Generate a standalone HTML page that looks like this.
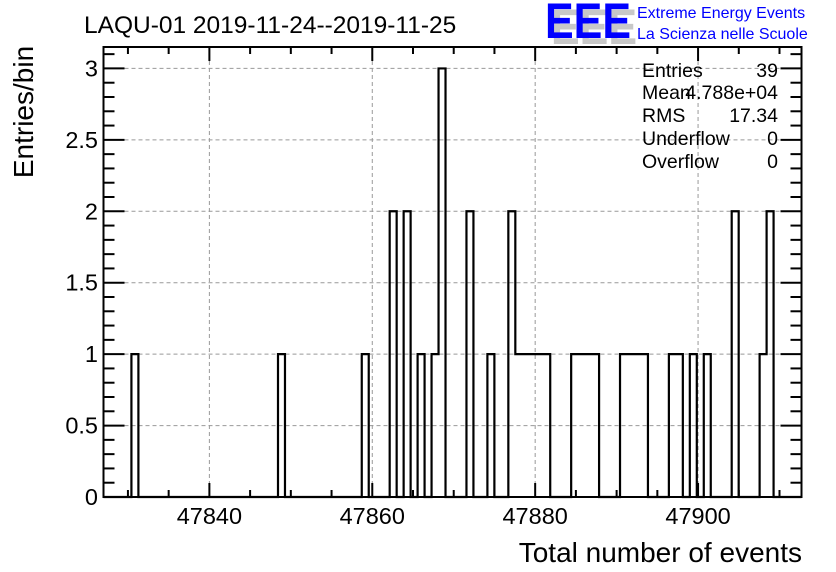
<!DOCTYPE html>
<html><head><meta charset="utf-8"><style>
body{margin:0;background:#fff;}
svg{display:block;font-family:"Liberation Sans",sans-serif;}
</style></head><body>
<svg id="c" width="836" height="572">
<text x="84" y="33" font-size="24.5">LAQU-01 2019-11-24--2019-11-25</text>
<g>
<text x="551" y="44" font-size="50" font-weight="bold" fill="#c8c8c8" textLength="86" lengthAdjust="spacingAndGlyphs">EEE</text>
<text x="545" y="38" font-size="50" font-weight="bold" fill="#0000ff" textLength="86" lengthAdjust="spacingAndGlyphs">EEE</text>
<text x="637" y="18" font-size="16" fill="#0000ff">Extreme Energy Events</text>
<text x="637" y="39" font-size="16" fill="#0000ff">La Scienza nelle Scuole</text>
</g>
<g id="grid"></g>
<g id="hist"></g>
<g id="axes"></g>
<text x="802" y="562" font-size="28" text-anchor="end">Total number of events</text>
<text transform="translate(33,112) rotate(-90)" font-size="28" text-anchor="middle">Entries/bin</text>
<g font-size="19.5">
<text x="642" y="77">Entries</text><text x="778" y="77" text-anchor="end">39</text>
<text x="642" y="99">Mean</text><text x="778" y="99" text-anchor="end">4.788e+04</text>
<text x="642" y="122">RMS</text><text x="778" y="122" text-anchor="end">17.34</text>
<text x="642" y="145">Underflow</text><text x="778" y="145" text-anchor="end">0</text>
<text x="642" y="168">Overflow</text><text x="778" y="168" text-anchor="end">0</text>
</g>
</svg>
<script>
const xMin = 47827.0, xMax = 47912.7, nBins = 100;
const yMax = 3.15;
const binIndex = [4,25,37,41,43,45,47,48,52,55,58,59,60,61,62,63,67,68,69,70,74,75,76,77,81,82,84,86,90,94,95];
const binCount = [1,1,1,2,2,1,1,3,2,1,2,1,1,1,1,1,1,1,1,1,1,1,1,1,1,1,1,1,2,1,2];
const xTicks = [47840,47860,47880,47900];
const yTicks = [0,0.5,1,1.5,2,2.5,3];
const yTickLabels = ["0","0.5","1","1.5","2","2.5","3"];

const L=103.5,R=801.5,T=47,B=497;
const sx=v=>L+(v-xMin)/(xMax-xMin)*(R-L);
const sy=v=>B-v/yMax*(B-T);
const NS="http://www.w3.org/2000/svg";
function mk(tag,attrs,parent){const e=document.createElementNS(NS,tag);for(const k in attrs)e.setAttribute(k,attrs[k]);parent.appendChild(e);return e;}
const grid=document.getElementById('grid'),axes=document.getElementById('axes'),hist=document.getElementById('hist');
xTicks.forEach(t=>{const l=mk('line',{x1:sx(t),x2:sx(t),y1:T,y2:B,stroke:'#999','stroke-dasharray':'4,3'},grid);
});
yTicks.forEach(t=>{if(t===0)return;const l=mk('line',{x1:L,x2:R,y1:sy(t),y2:sy(t),stroke:'#999','stroke-dasharray':'4,3'},grid);
});
const counts=new Array(nBins).fill(0);
binIndex.forEach((b,i)=>counts[b]=binCount[i]);
const bw=(xMax-xMin)/nBins;
let d=`M${L},${sy(0)}`;
for(let i=0;i<nBins;i++){const x0=sx(xMin+i*bw),x1=sx(xMin+(i+1)*bw);d+=` L${x0},${sy(counts[i])} L${x1},${sy(counts[i])}`;}
const p=mk('path',{d:d,fill:'none',stroke:'#000','stroke-width':2.2},hist);

const f=mk('rect',{x:L,y:T,width:R-L,height:B-T,fill:'none',stroke:'#000','stroke-width':2},axes);

for(let v=47830;v<=xMax;v+=5){const major=v%20===0;const len=major?14:7;const x=sx(v);
mk('line',{x1:x,x2:x,y1:B,y2:B-len,stroke:'#000','stroke-width':2},axes);
mk('line',{x1:x,x2:x,y1:T,y2:T+len,stroke:'#000','stroke-width':2},axes);}
xTicks.forEach(t=>{const e=mk('text',{x:sx(t),y:524,'font-size':23.5,'text-anchor':'middle'},axes);e.textContent=t;
});
for(let k=0;k<=31;k++){const v=k/10;const major=k%5===0;const len=major?21:11;const y=sy(v);
mk('line',{x1:L,x2:L+len,y1:y,y2:y,stroke:'#000','stroke-width':2},axes);
mk('line',{x1:R,x2:R-len,y1:y,y2:y,stroke:'#000','stroke-width':2},axes);}
yTicks.forEach((t,i)=>{const e=mk('text',{x:98,y:sy(t)+8,'font-size':23.5,'text-anchor':'end'},axes);e.textContent=yTickLabels[i];
});
</script>
</body></html>
